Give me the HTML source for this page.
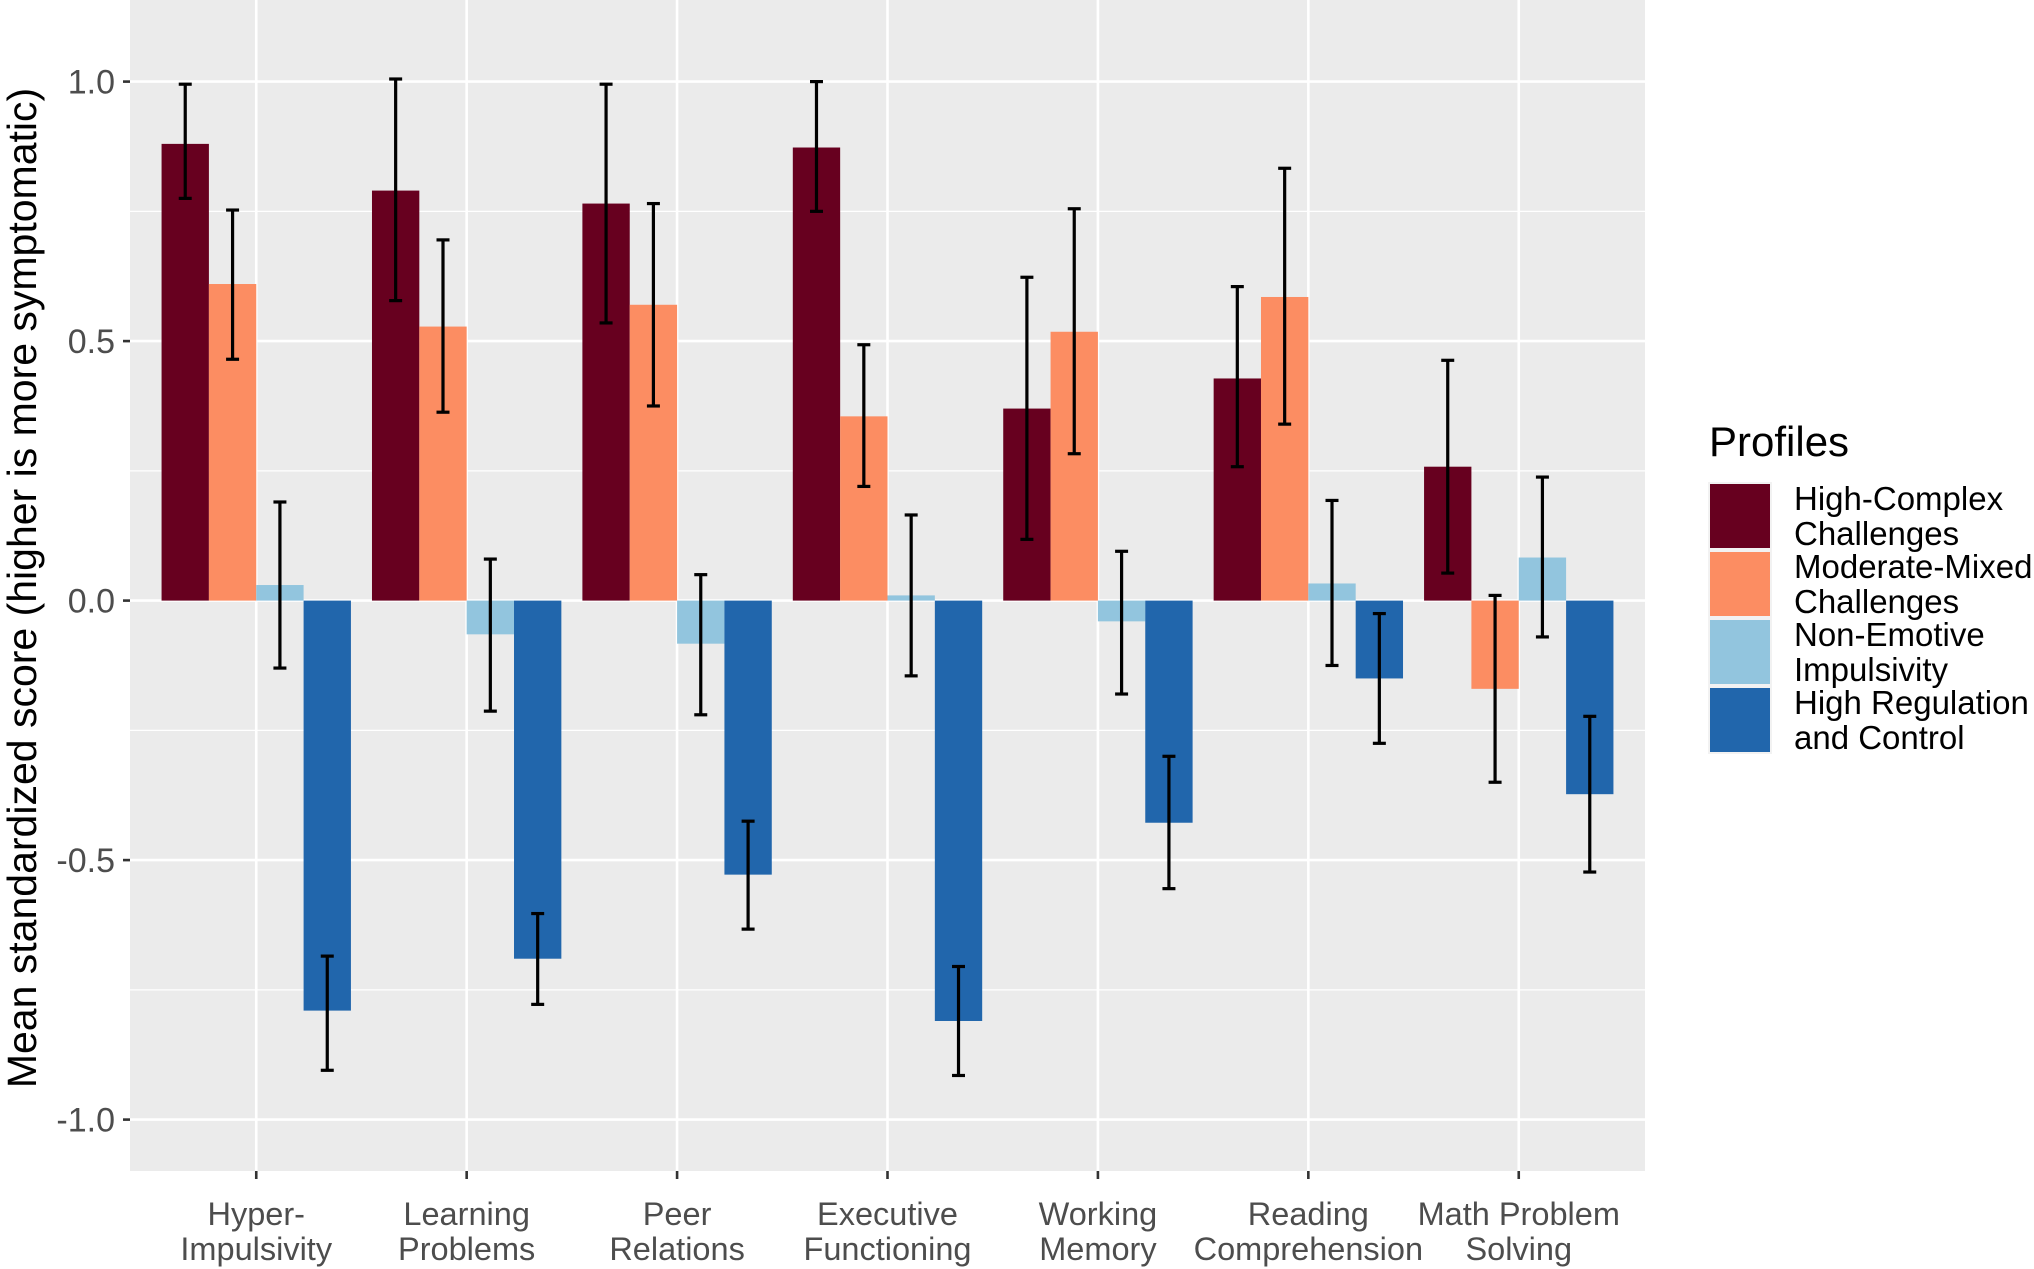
<!DOCTYPE html>
<html><head><meta charset="utf-8"><style>
html,body{margin:0;padding:0;background:#fff;}
svg{display:block;font-family:"Liberation Sans",Arial,sans-serif;}
</style></head><body>
<svg id="chart" width="2034" height="1269" viewBox="0 0 2034 1269" xmlns="http://www.w3.org/2000/svg">
<rect x="0" y="0" width="2034" height="1269" fill="#fff"/>
<g id="plot"></g>
<text transform="translate(36,588) rotate(-90)" text-anchor="middle" font-size="41" fill="#000">Mean standardized score (higher is more symptomatic)</text>
<g>
<text x="1709" y="456" font-size="42" fill="#000">Profiles</text>
<g id="legend-items"></g>
</g>
</svg>
<script>
const categories = [["Hyper-","Impulsivity"],["Learning","Problems"],["Peer","Relations"],["Executive","Functioning"],["Working","Memory"],["Reading","Comprehension"],["Math Problem","Solving"]];
const seriesNames = [["High-Complex","Challenges"],["Moderate-Mixed","Challenges"],["Non-Emotive","Impulsivity"],["High Regulation","and Control"]];
const seriesColors = ["#67001f","#fc8d62","#92c5de","#2166ac"];
const highComplex = [0.88,0.79,0.765,0.873,0.37,0.428,0.258];
const highComplexLo = [0.775,0.578,0.535,0.75,0.118,0.258,0.053];
const highComplexHi = [0.995,1.005,0.995,1.0,0.623,0.605,0.463];
const moderateMixed = [0.61,0.528,0.57,0.355,0.518,0.585,-0.17];
const moderateMixedLo = [0.465,0.363,0.375,0.22,0.283,0.34,-0.35];
const moderateMixedHi = [0.7525,0.695,0.765,0.493,0.755,0.833,0.01];
const nonEmotive = [0.03,-0.065,-0.083,0.01,-0.04,0.033,0.083];
const nonEmotiveLo = [-0.13,-0.213,-0.22,-0.145,-0.18,-0.125,-0.07];
const nonEmotiveHi = [0.19,0.08,0.05,0.165,0.095,0.193,0.238];
const highRegulation = [-0.79,-0.69,-0.528,-0.81,-0.428,-0.15,-0.373];
const highRegulationLo = [-0.905,-0.778,-0.633,-0.915,-0.555,-0.275,-0.523];
const highRegulationHi = [-0.685,-0.603,-0.425,-0.705,-0.3,-0.025,-0.223];
const yTicks = [1.0,0.5,0.0,-0.5,-1.0];
const yTickLabels = ["1.0","0.5","0.0","-0.5","-1.0"];
const yMinorTicks = [0.75,0.25,-0.25,-0.75];

const values=[highComplex,moderateMixed,nonEmotive,highRegulation];
const los=[highComplexLo,moderateMixedLo,nonEmotiveLo,highRegulationLo];
const his=[highComplexHi,moderateMixedHi,nonEmotiveHi,highRegulationHi];
const NS="http://www.w3.org/2000/svg";
const L=130,R=1645,T=0,B=1171;
const y0px=600.6, unit=519;
function y(v){return y0px - v*unit;}
const step=(R-L)/(categories.length-1+1.2);
function xc(i){return L+step*(i+0.6);}
const barW=step*0.9/4;
const plot=document.getElementById('plot');
function mk(tag,attrs,parent){const e=document.createElementNS(NS,tag);for(const k in attrs)e.setAttribute(k,attrs[k]);(parent||plot).appendChild(e);return e;}
let e=mk('rect',{x:L,y:T,width:R-L,height:B-T,fill:'#ebebeb'});


yMinorTicks.forEach(v=>{const g=mk('line',{x1:L,x2:R,y1:y(v),y2:y(v),stroke:'#fff','stroke-width':1.2});

});
yTicks.forEach((v,i)=>{const g=mk('line',{x1:L,x2:R,y1:y(v),y2:y(v),stroke:'#fff','stroke-width':2.6});


const t=mk('text',{x:115,y:y(v)+12,'text-anchor':'end','font-size':34,fill:'#4d4d4d'});t.textContent=yTickLabels[i];


const tk=mk('line',{x1:123,x2:L,y1:y(v),y2:y(v),stroke:'#333','stroke-width':2.6});

});
categories.forEach((c,i)=>{const g=mk('line',{x1:xc(i),x2:xc(i),y1:T,y2:B,stroke:'#fff','stroke-width':2.6});


const tk=mk('line',{x1:xc(i),x2:xc(i),y1:B,y2:B+8,stroke:'#333','stroke-width':2.6});


const t=mk('text',{x:xc(i),y:1225,'text-anchor':'middle','font-size':32.5,fill:'#4d4d4d'});


c.forEach((ln,j)=>{const ts=mk('tspan',{x:xc(i),dy:j?35:0},t);ts.textContent=ln;});});
for(let s=0;s<4;s++){for(let i=0;i<7;i++){
const bx=xc(i)-2*barW+s*barW, v=values[s][i];
const r=mk('rect',{x:bx,y:Math.min(y(v),y(0)),width:barW,height:Math.abs(y(v)-y(0)),fill:seriesColors[s]});

}}
for(let s=0;s<4;s++){for(let i=0;i<7;i++){
const cx=xc(i)-2*barW+(s+0.5)*barW;
const g=mk('g',{stroke:'#000','stroke-width':3.2});


mk('line',{x1:cx,x2:cx,y1:y(los[s][i]),y2:y(his[s][i])},g);
mk('line',{x1:cx-6.5,x2:cx+6.5,y1:y(los[s][i]),y2:y(los[s][i])},g);
mk('line',{x1:cx-6.5,x2:cx+6.5,y1:y(his[s][i]),y2:y(his[s][i])},g);}}
const lg=document.getElementById('legend-items');
seriesNames.forEach((n,s)=>{const top=482+s*68;
const r=mk('rect',{x:1709,y:top+1,width:62,height:66,fill:seriesColors[s],stroke:'#f2f2f2','stroke-width':2},lg);


const t=mk('text',{x:1794,y:top+28,'font-size':33,fill:'#000'},lg);


n.forEach((ln,j)=>{const ts=mk('tspan',{x:1794,dy:j?35:0},t);ts.textContent=ln;});});
</script>
</body></html>
